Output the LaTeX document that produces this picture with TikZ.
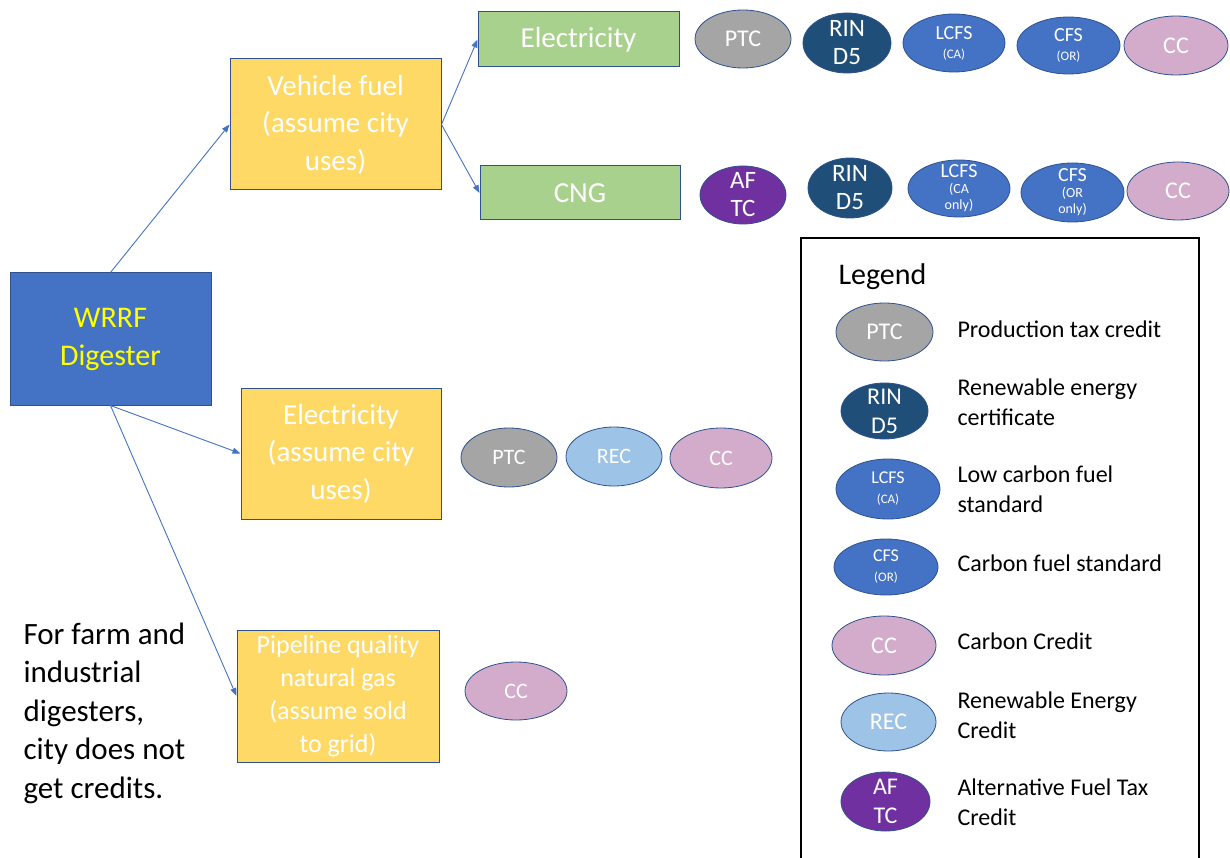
\documentclass[tikz,border=0pt]{standalone}
\usepackage{fontspec}
\setmainfont{Carlito}
\usetikzlibrary{shapes.geometric,arrows.meta}

\definecolor{boxblue}{HTML}{4472C4}
\definecolor{bord}{HTML}{2F528F}
\definecolor{yfill}{HTML}{FFD966}
\definecolor{gfill}{HTML}{A9D18E}
\definecolor{ptcc}{HTML}{A5A5A5}
\definecolor{rinc}{HTML}{1F4E79}
\definecolor{lcfsc}{HTML}{4472C4}
\definecolor{ccc}{HTML}{D4ACCB}
\definecolor{recc}{HTML}{9DC3E6}
\definecolor{aftcc}{HTML}{7030A0}
\definecolor{digtext}{HTML}{FFFF00}

\newcommand\setfs[2]{\fontsize{#1}{#2}\selectfont}

\begin{document}
\begin{tikzpicture}[x=1pt,y=-1pt,
  box/.style={rectangle, draw=bord, line width=1pt, inner sep=0pt, align=center, text=white},
  cred/.style={ellipse, draw=bord, line width=0.8pt, inner sep=0pt},
  ctext/.style={text=white, align=center},
  flow/.style={draw=boxblue, line width=0.9pt, -{Triangle[length=8pt,width=6pt]}},
  legtext/.style={anchor=west, align=left, text=black, font=\setfs{24}{29.5}}
]
\useasboundingbox (0,0) rectangle (1230,858);

% main boxes
\node[box, fill=boxblue, minimum width=201, minimum height=132, text=digtext,
      font=\setfs{30}{38}] (dig) at (110.5,339) {WRRF\\Digester};
\node[box, fill=yfill, minimum width=211, minimum height=131,
      font=\setfs{29}{37.5}] (veh) at (335.5,124.5) {Vehicle fuel\\(assume city\\uses)};
\node[box, fill=gfill, minimum width=201, minimum height=55,
      font=\setfs{29}{35}] (elg) at (578.5,39.5) {Electricity};
\node[box, fill=gfill, minimum width=200, minimum height=54,
      font=\setfs{29}{35}] (cng) at (580,193) {CNG};
\node[box, fill=yfill, minimum width=200, minimum height=131,
      font=\setfs{29}{37.5}] (ely) at (341,453.5) {Electricity\\(assume city\\uses)};
\node[box, fill=yfill, minimum width=202, minimum height=132,
      font=\setfs{26}{33}] (pipe) at (338,696) {Pipeline quality\\natural gas\\(assume sold\\to grid)};

% connectors
\draw[flow] (dig.north) -- (veh.west);
\draw[flow] (veh.east) -- (elg.west);
\draw[flow] (veh.east) -- (cng.west);
\draw[flow] (dig.south) -- (ely.west);
\draw[flow] (dig.south) -- (pipe.west);

% credits: electricity as vehicle fuel
\node[cred, fill=ptcc, minimum width=96, minimum height=58,
      label={[ctext, font=\setfs{24}{26}]center:PTC}] (e1) at (743,39) {};
\node[cred, fill=rinc, minimum width=88, minimum height=60,
      label={[ctext, font=\setfs{25}{28}]center:RIN\\D5}] (e2) at (847,43) {};
\node[cred, fill=lcfsc, minimum width=102, minimum height=58,
      label={[ctext, font=\setfs{20}{19}]center:LCFS\\{\setfs{13}{14}(CA)}}] (e3) at (954,43) {};
\node[cred, fill=lcfsc, minimum width=103, minimum height=57,
      label={[ctext, font=\setfs{20}{19}]center:CFS\\{\setfs{13}{14}(OR)}}] (e4) at (1068.5,45.5) {};
\node[cred, fill=ccc, minimum width=104, minimum height=59,
      label={[ctext, font=\setfs{24}{26}]center:CC}] (e5) at (1176,45.5) {};

% credits: CNG
\node[cred, fill=aftcc, minimum width=86, minimum height=58,
      label={[ctext, font=\setfs{25}{28}]center:AF\\TC}] (c1) at (743,195) {};
\node[cred, fill=rinc, minimum width=84, minimum height=60,
      label={[ctext, font=\setfs{25}{28}]center:RIN\\D5}] (c2) at (850,188) {};
\node[cred, fill=lcfsc, minimum width=102, minimum height=57,
      label={[ctext, font=\setfs{14}{16}]center:{\setfs{20}{19}LCFS}\\(CA\\only)}] (c3) at (959,188.5) {};
\node[cred, fill=lcfsc, minimum width=103, minimum height=59,
      label={[ctext, font=\setfs{14}{16}]center:{\setfs{20}{19}CFS}\\(OR\\only)}] (c4) at (1072.5,192.5) {};
\node[cred, fill=ccc, minimum width=102, minimum height=58,
      label={[ctext, font=\setfs{24}{26}]center:CC}] (c5) at (1178,191) {};

% credits: electricity used by the city
\node[cred, fill=ptcc, minimum width=96, minimum height=59,
      label={[ctext, font=\setfs{22}{24}]center:PTC}] (y1) at (509,457.5) {};
\node[cred, fill=recc, minimum width=96, minimum height=59,
      label={[ctext, font=\setfs{22}{24}]center:REC}] (y2) at (614,456.5) {};
\node[cred, fill=ccc, minimum width=102, minimum height=60,
      label={[ctext, font=\setfs{22}{24}]center:CC}] (y3) at (721,458) {};

% credits: pipeline gas
\node[cred, fill=ccc, minimum width=102, minimum height=58,
      label={[ctext, font=\setfs{22}{24}]center:CC}] (p1) at (516,691) {};

% side note
\node[anchor=west, align=left, font=\setfs{31}{38.5}] (note) at (20,713)
  {For farm and\\industrial\\digesters,\\city does not\\get credits.};

% legend frame (runs past the lower edge)
\coordinate (lgbl) at (801,860);
\coordinate (lgtl) at (801,238);
\coordinate (lgtr) at (1199,238);
\coordinate (lgbr) at (1199,860);
\draw[line width=2pt, black] (lgbl) -- (lgtl) -- (lgtr) -- (lgbr);
\node[anchor=west, font=\setfs{30}{32}] (lgtitle) at (835,277) {Legend};

\node[cred, fill=ptcc, minimum width=97, minimum height=58,
      label={[ctext, font=\setfs{24}{26}]center:PTC}] (l1) at (884.5,332) {};
\node[legtext] (t1) at (954,329) {Production tax credit};
\node[cred, fill=rinc, minimum width=87, minimum height=56,
      label={[ctext, font=\setfs{24}{29}]center:RIN\\D5}] (l2) at (884.5,411) {};
\node[legtext] (t2) at (954,402.5) {Renewable energy\\certificate};
\node[cred, fill=lcfsc, minimum width=104, minimum height=60,
      label={[ctext, font=\setfs{18}{20}]center:LCFS\\{\setfs{13}{14}(CA)}}] (l3) at (888,489) {};
\node[legtext] (t3) at (954,489.5) {Low carbon fuel\\standard};
\node[cred, fill=lcfsc, minimum width=104, minimum height=56,
      label={[ctext, font=\setfs{18}{20}]center:CFS\\{\setfs{13}{14}(OR)}}] (l4) at (886,567) {};
\node[legtext] (t4) at (954,563) {Carbon fuel standard};
\node[cred, fill=ccc, minimum width=104, minimum height=59,
      label={[ctext, font=\setfs{24}{26}]center:CC}] (l5) at (884,645.5) {};
\node[legtext] (t5) at (954,641) {Carbon Credit};
\node[cred, fill=recc, minimum width=95, minimum height=58,
      label={[ctext, font=\setfs{24}{26}]center:REC}] (l6) at (888.5,722) {};
\node[legtext] (t6) at (954,715) {Renewable Energy\\Credit};
\node[cred, fill=aftcc, minimum width=89, minimum height=59,
      label={[ctext, font=\setfs{24}{29}]center:AF\\TC}] (l7) at (885.5,801.5) {};
\node[legtext] (t7) at (954,802) {Alternative Fuel Tax\\Credit};
\end{tikzpicture}
\end{document}
